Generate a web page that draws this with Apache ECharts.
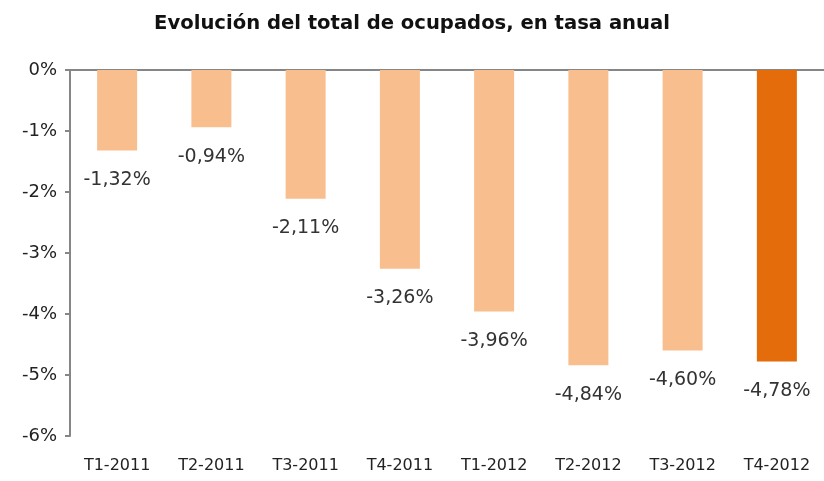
<!DOCTYPE html>
<html><head><meta charset="utf-8">
<script src="https://cdn.jsdelivr.net/npm/echarts@6/dist/echarts.min.js"></script>
<style>html,body{margin:0;padding:0;background:#fff}#c{width:824px;height:481px}</style>
</head><body><div id="c"></div>
<script>
const categories = ["T1-2011","T2-2011","T3-2011","T4-2011","T1-2012","T2-2012","T3-2012","T4-2012"];
const values = [-1.32,-0.94,-2.11,-3.26,-3.96,-4.84,-4.60,-4.78];
const highlightIndex = 7;
const yTicks = [0,-1,-2,-3,-4,-5,-6];
const titleText = "Evolución del total de ocupados, en tasa anual";

const font = "'DejaVu Sans', sans-serif";
const chart = echarts.init(document.getElementById('c'), null, {renderer:'canvas'});
chart.setOption({
  animation:false,
  title:{text:titleText,left:'center',top:9,textStyle:{fontFamily:font,fontSize:19.6,fontWeight:'bold',color:'#111'}},
  grid:{left:70,top:70,width:758,height:366},
  xAxis:[
    {type:'category',data:categories,position:'top',
     axisLine:{lineStyle:{color:'#868686',width:2}},
     axisTick:{inside:true,length:5,lineStyle:{color:'#868686',width:2}},
     axisLabel:{show:false}},
    {type:'category',data:categories,position:'bottom',
     axisLine:{show:false},axisTick:{show:false},
     axisLabel:{fontFamily:font,fontSize:16,color:'#222',margin:22}}
  ],
  yAxis:{type:'value',min:-6,max:0,interval:1,
    axisLine:{show:true,lineStyle:{color:'#868686',width:2}},
    axisTick:{show:true,length:5,lineStyle:{color:'#868686',width:2}},
    splitLine:{show:false},
    axisLabel:{fontFamily:font,fontSize:18,color:'#222',margin:13,formatter:v=>v+'%'}},
  series:[{type:'bar',xAxisIndex:0,barWidth:40,
    data:values.map((v,i)=>({value:v,itemStyle:{color:i===highlightIndex?'#E46C0A':'#F9BE8E'}})),
    label:{show:true,position:'bottom',distance:20,fontFamily:font,fontSize:19,color:'#333',
      formatter:p=>p.value.toFixed(2).replace('.',',')+'%'}}]
});
</script></body></html>
